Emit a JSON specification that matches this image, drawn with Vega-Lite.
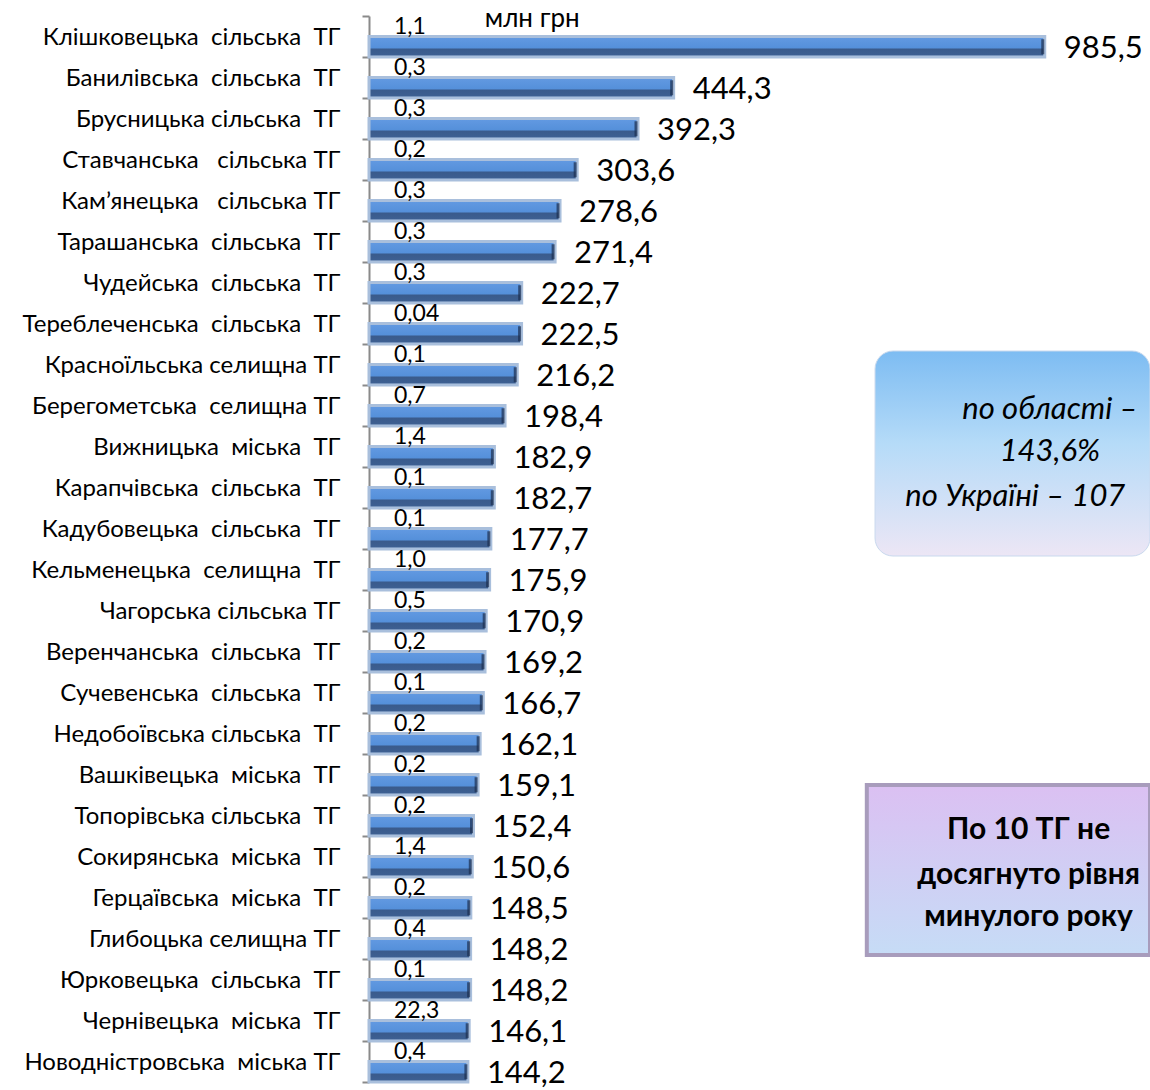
{
  "$schema": "https://vega.github.io/schema/vega-lite/v6.json",
  "autosize": "none",
  "padding": {"left": 369, "top": 16, "right": 0, "bottom": 8},
  "width": 781,
  "height": 1066,
  "background": "white",
  "config": {
    "view": {"stroke": null},
    "font": "Lato",
    "locale": {"number": {"decimal": ",", "thousands": " ", "grouping": [3], "currency": ["", ""]}}
  },
  "datasets": {
    "main": [
      {"name": "Клішковецька\u00a0 сільська\u00a0 ТГ", "pct": 985.5, "mln": "1,1"},
      {"name": "Банилівська\u00a0 сільська\u00a0 ТГ", "pct": 444.3, "mln": "0,3"},
      {"name": "Брусницька сільська\u00a0 ТГ", "pct": 392.3, "mln": "0,3"},
      {"name": "Ставчанська\u00a0\u00a0 сільська ТГ", "pct": 303.6, "mln": "0,2"},
      {"name": "Кам’янецька\u00a0\u00a0 сільська ТГ", "pct": 278.6, "mln": "0,3"},
      {"name": "Тарашанська\u00a0 сільська\u00a0 ТГ", "pct": 271.4, "mln": "0,3"},
      {"name": "Чудейська\u00a0 сільська\u00a0 ТГ", "pct": 222.7, "mln": "0,3"},
      {"name": "Тереблеченська\u00a0 сільська\u00a0 ТГ", "pct": 222.5, "mln": "0,04"},
      {"name": "Красноїльська селищна ТГ", "pct": 216.2, "mln": "0,1"},
      {"name": "Берегометська\u00a0 селищна ТГ", "pct": 198.4, "mln": "0,7"},
      {"name": "Вижницька\u00a0 міська\u00a0 ТГ", "pct": 182.9, "mln": "1,4"},
      {"name": "Карапчівська\u00a0 сільська\u00a0 ТГ", "pct": 182.7, "mln": "0,1"},
      {"name": "Кадубовецька\u00a0 сільська\u00a0 ТГ", "pct": 177.7, "mln": "0,1"},
      {"name": "Кельменецька\u00a0 селищна\u00a0 ТГ", "pct": 175.9, "mln": "1,0"},
      {"name": "Чагорська сільська ТГ", "pct": 170.9, "mln": "0,5"},
      {"name": "Веренчанська\u00a0 сільська\u00a0 ТГ", "pct": 169.2, "mln": "0,2"},
      {"name": "Сучевенська\u00a0 сільська\u00a0 ТГ", "pct": 166.7, "mln": "0,1"},
      {"name": "Недобоївська сільська\u00a0 ТГ", "pct": 162.1, "mln": "0,2"},
      {"name": "Вашківецька\u00a0 міська\u00a0 ТГ", "pct": 159.1, "mln": "0,2"},
      {"name": "Топорівська сільська\u00a0 ТГ", "pct": 152.4, "mln": "0,2"},
      {"name": "Сокирянська\u00a0 міська\u00a0 ТГ", "pct": 150.6, "mln": "1,4"},
      {"name": "Герцаївська\u00a0 міська\u00a0 ТГ", "pct": 148.5, "mln": "0,2"},
      {"name": "Глибоцька селищна ТГ", "pct": 148.2, "mln": "0,4"},
      {"name": "Юрковецька\u00a0 сільська\u00a0 ТГ", "pct": 148.2, "mln": "0,1"},
      {"name": "Чернівецька\u00a0 міська\u00a0 ТГ", "pct": 146.1, "mln": "22,3"},
      {"name": "Новодністровська\u00a0 міська ТГ", "pct": 144.2, "mln": "0,4"}
    ],
    "ribbon": [{"x": 738, "x2": 1139, "y": 335, "y2": 540}],
    "box": [{"x": 726, "x2": 1139, "y": 769, "y2": 939}],
    "ribbonText": [
      {"x": 993, "y": 394, "t": "по області –"},
      {"x": 993, "y": 436, "t": "143,6%"}
    ],
    "ribbonText2": [{"x": 782, "y": 481, "t": "по Україні – 107"}],
    "boxText": [
      {"x": 962, "y": 814, "t": "По 10 ТГ не"},
      {"x": 962, "y": 859, "t": "досягнуто рівня"},
      {"x": 962, "y": 901, "t": "минулого року"}
    ],
    "unit": [{"x": 238, "y": 3, "t": "млн грн"}]
  },
  "layer": [
    {
      "data": {"name": "main"},
      "encoding": {
        "y": {
          "field": "name", "type": "nominal", "sort": null,
          "scale": {"paddingInner": 0, "paddingOuter": 0},
          "axis": {
            "title": null, "domainColor": "#8a8a8a", "domainWidth": 2,
            "tickColor": "#8a8a8a", "tickWidth": 2, "tickSize": 7, "tickBand": "extent",
            "labelFont": "Lato", "labelFontSize": 24, "labelColor": "#000000",
            "labelPadding": 22, "labelLimit": 400, "labelOffset": 1
          }
        }
      },
      "layer": [
        {
          "mark": {
            "type": "bar",
            "fill": {
              "gradient": "linear", "x1": 0, "y1": 0, "x2": 0, "y2": 1,
              "stops": [
                {"offset": 0, "color": "#639ae2"},
                {"offset": 0.55, "color": "#5590da"},
                {"offset": 0.62, "color": "#3a5b8c"},
                {"offset": 0.9, "color": "#3d5f91"},
                {"offset": 1, "color": "#5a82ba"}
              ]
            },
            "stroke": "#a9bfdc", "strokeWidth": 3
          },
          "encoding": {
            "x": {"field": "pct", "type": "quantitative", "scale": {"domain": [0, 1139], "nice": false}, "axis": null},
            "yOffset": {"datum": "p", "scale": {"domain": ["a", "p"], "paddingInner": 0, "paddingOuter": 0}}
          }
        },
        {
          "mark": {"type": "tick", "orient": "vertical", "color": "#1b2e4f", "thickness": 3, "size": 15, "xOffset": -2},
          "encoding": {
            "x": {"field": "pct", "type": "quantitative"},
            "yOffset": {"datum": "p"}
          }
        },
        {
          "mark": {"type": "text", "align": "left", "baseline": "middle", "dx": 19, "dy": 2, "fontSize": 31, "font": "Lato", "color": "#000000"},
          "encoding": {
            "x": {"field": "pct", "type": "quantitative"},
            "yOffset": {"datum": "p"},
            "text": {"field": "pct", "type": "quantitative", "format": ".1f"}
          }
        },
        {
          "mark": {"type": "text", "align": "left", "baseline": "middle", "dx": 25, "dy": 1, "fontSize": 23, "font": "Lato", "color": "#000000"},
          "encoding": {
            "x": {"datum": 0, "type": "quantitative"},
            "yOffset": {"datum": "a"},
            "text": {"field": "mln", "type": "nominal"}
          }
        }
      ]
    },
    {
      "encoding": {
        "x": {"field": "x", "type": "quantitative"},
        "y": {"field": "y", "type": "quantitative", "scale": {"domain": [0, 1066], "reverse": true, "nice": false, "zero": false}, "axis": null}
      },
      "layer": [
        {
          "data": {"name": "ribbon"},
          "mark": {
            "type": "rect", "cornerRadius": 18,
            "fill": {
              "gradient": "linear", "x1": 0, "y1": 0, "x2": 0, "y2": 1,
              "stops": [
                {"offset": 0, "color": "#7dbcf2"},
                {"offset": 0.45, "color": "#b5dbf8"},
                {"offset": 1, "color": "#ece6f5"}
              ]
            },
            "stroke": "#c9d9ee", "strokeWidth": 1
          },
          "encoding": {"x2": {"field": "x2"}, "y2": {"field": "y2"}}
        },
        {
          "data": {"name": "box"},
          "mark": {
            "type": "rect",
            "fill": {
              "gradient": "linear", "x1": 0, "y1": 0, "x2": 0, "y2": 1,
              "stops": [
                {"offset": 0, "color": "#dbc0f2"},
                {"offset": 1, "color": "#c6dcf6"}
              ]
            },
            "stroke": "#a89cbc", "strokeWidth": 4
          },
          "encoding": {"x2": {"field": "x2"}, "y2": {"field": "y2"}}
        },
        {
          "data": {"name": "ribbonText"},
          "mark": {"type": "text", "align": "center", "baseline": "middle", "fontSize": 31, "fontStyle": "italic", "font": "Lato", "color": "#000000"},
          "encoding": {"text": {"field": "t"}}
        },
        {
          "data": {"name": "ribbonText2"},
          "mark": {"type": "text", "align": "left", "baseline": "middle", "fontSize": 31, "fontStyle": "italic", "font": "Lato", "color": "#000000"},
          "encoding": {"text": {"field": "t"}}
        },
        {
          "data": {"name": "boxText"},
          "mark": {"type": "text", "align": "center", "baseline": "middle", "fontSize": 30, "fontWeight": "bold", "font": "Lato", "color": "#000000"},
          "encoding": {"text": {"field": "t"}}
        },
        {
          "data": {"name": "unit"},
          "mark": {"type": "text", "align": "center", "baseline": "middle", "fontSize": 26, "font": "Lato", "color": "#000000"},
          "encoding": {"text": {"field": "t"}}
        }
      ]
    }
  ],
  "resolve": {"scale": {"y": "independent"}}
}
